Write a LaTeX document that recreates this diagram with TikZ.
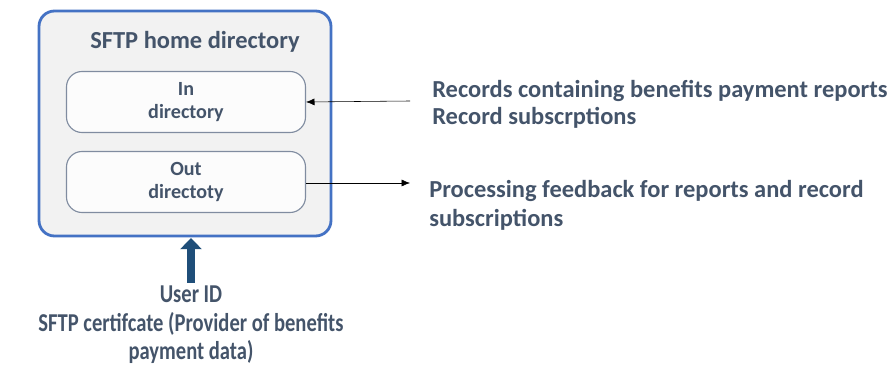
\documentclass[tikz,border=0pt]{standalone}
\usepackage{fontspec}
\setmainfont{Carlito}
\usepackage{xcolor}
\usepackage{tikz}
\usetikzlibrary{arrows.meta}

\definecolor{txtgray}{RGB}{68,84,106}
\definecolor{boxblue}{RGB}{68,114,196}
\definecolor{dirgray}{RGB}{128,140,160}
\definecolor{upblue}{RGB}{31,78,121}

\newcommand{\narrow}[1]{\scalebox{0.8}[1]{#1}}

\tikzset{
    lbl/.style={text=txtgray, font=\bfseries\fontsize{17.4}{19}\selectfont, inner sep=0pt},
    idlbl/.style={lbl, font=\bfseries\fontsize{18.3}{20}\selectfont},
    dirbox/.style={draw=dirgray, fill=white!60!gray!5, rounded corners=11pt, line width=0.8pt,
        minimum width=239*0.025cm, minimum height=61*0.025cm, align=center, text=txtgray,
        font=\bfseries\fontsize{14.3}{16}\selectfont}
}

\begin{document}
\begin{tikzpicture}[x=0.025cm, y=-0.025cm]
        \useasboundingbox (0,0) rectangle (893,365);

        % home directory
        \draw[draw=boxblue, fill=gray!10, line width=2pt, rounded corners=11pt] (39,11) rectangle (331,236);
        \node[lbl] (home) at (195,42) {SFTP home directory};
        \node[dirbox] (indir) at (186,102) {In\\directory};
        \node[dirbox] (outdir) at (186,182) {Out\\directoty};

        % right side
        \coordinate (infrom) at (410,101);
        \coordinate (outto) at (410,183);
        \draw[-{Latex[length=6pt, width=5pt]}, thin] (infrom) -- (indir.east);
        \draw[-{Latex[length=6pt, width=5pt]}, thin] (outdir.east |- outto) -- (outto);
        \node[lbl, anchor=west, align=left] (recs) at (432,104) {Records containing benefits payment reports\\Record subscrptions};
        \node[lbl, anchor=west, align=left] (feed) at (429,205) {Processing feedback for reports and record\\[1.5pt]subscriptions};

        % below
        \node[idlbl] (user) at (191,294) {\narrow{User ID}};
        \node[idlbl] (cert) at (191,324) {\narrow{SFTP certifcate (Provider of benefits}};
        \node[idlbl] (pay) at (191,352) {\narrow{payment data)}};
        \draw[upblue, line width=5pt, -{Triangle[length=8pt, width=15pt]}] (191,283) -- (191,238);
\end{tikzpicture}
\end{document}
